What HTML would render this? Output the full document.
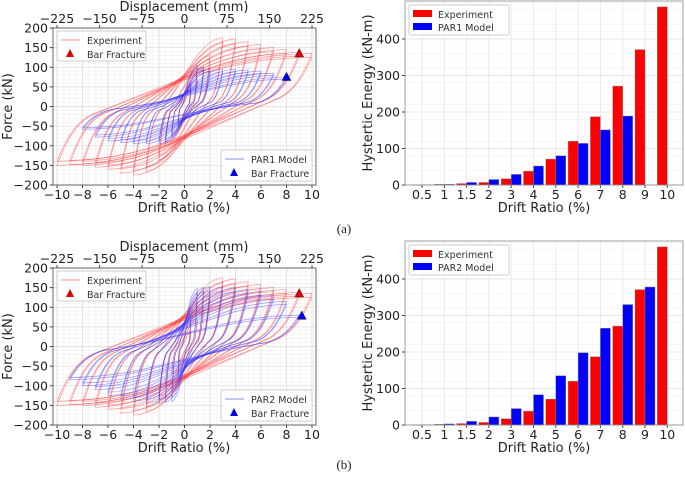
<!DOCTYPE html>
<html><head><meta charset="utf-8"><style>
body{margin:0;background:#fff;}
svg{display:block;font-family:"DejaVu Sans","Liberation Sans",sans-serif;}
</style></head><body>
<svg id="fig" width="685" height="477" viewBox="0 0 685 477"></svg>
<script>
const driftAmps=[0.5,1,1.5,2,3,4,5,6,7,8,9,10];
const expPos=[40,70,100,130,175,172,165,158,150,145,138,135];
const expNeg=[40,70,100,135,165,175,170,160,155,150,148,150];
const expRes=[0.1,0.15,0.2,0.3,0.4,0.45,0.5,0.5,0.55,0.55,0.55,0.6];
const par1Amps=[0.5,1,1.5,2,3,4,5,6,7,8];
const par1Pos=[60,105,100,97,95,95,93,90,85,75];
const par1Neg=[50,80,90,95,95,95,92,88,78,58];
const par1Res=[0.1,0.1,0.12,0.15,0.15,0.18,0.18,0.2,0.2,0.2];
const par2Amps=[0.5,1,1.5,2,3,4,5,6,7,8,9];
const par2Pos=[80,148,150,152,152,150,145,140,130,115,80];
const par2Neg=[80,140,142,145,145,140,135,125,110,100,85];
const par2Res=[0.1,0.2,0.25,0.3,0.3,0.3,0.3,0.3,0.3,0.3,0.3];
const cats=["0.5","1","1.5","2","3","4","5","6","7","8","9","10"];
const energyExp=[0.5,2,4,7,17,38,71,120,187,271,371,488];
const energyPar1=[0.5,2,7,15,29,52,80,114,151,189,0,0];
const energyPar2=[0.5,3,10,22,45,83,135,198,265,330,378,0];
const xTicks=[-10,-8,-6,-4,-2,0,2,4,6,8,10];
const dispTicks=[-225,-150,-75,0,75,150,225];
const fTicks=[-200,-150,-100,-50,0,50,100,150,200];
const eTicks=[0,100,200,300,400];

const NS="http://www.w3.org/2000/svg";
const svg=document.getElementById('fig');
function el(tag,attrs,parent,text){const e=document.createElementNS(NS,tag);for(const k in attrs)e.setAttribute(k,attrs[k]);if(text!==undefined)e.textContent=text;(parent||svg).appendChild(e);return e;}

function hyst(oy,model,amps,pos,neg,res,label,frac){
  const g=el('g',{});
  
  
  const L=53,R=316,T=oy+28,B=oy+185;
  const sx=d=>184.5+d*12.75, sy=f=>(T+B)/2-f*(B-T)/400;
  for(let d=-10.5;d<=10.5;d+=0.5){el('line',{x1:sx(d),x2:sx(d),y1:T,y2:B,stroke:'#eee','stroke-width':0.5},g);}
  for(let f=-200;f<=200;f+=10){el('line',{x1:L,x2:R,y1:sy(f),y2:sy(f),stroke:'#eee','stroke-width':0.5},g);}
  xTicks.forEach(d=>el('line',{x1:sx(d),x2:sx(d),y1:T,y2:B,stroke:'#ddd','stroke-width':0.8},g));
  fTicks.forEach(f=>el('line',{x1:L,x2:R,y1:sy(f),y2:sy(f),stroke:'#ddd','stroke-width':0.8},g));
  function loops(a,p,n,r,col){
    a.forEach((d,i)=>{for(let k=0;k<2;k++){const s=k?0.93:1;const Fp=p[i]*s,Fn=n[i]*s,rr=r[i];
      const dstr=`M${sx(-d)},${sy(-Fn)} C${sx(-0.93*d)},${sy(-0.6*Fn)} ${sx(-0.85*d)},${sy(-0.25*Fn)} ${sx(-0.7*d)},${sy(-0.12*Fn)} C${sx(0.05*d)},${sy(rr*Fp)} ${sx(0.35*d)},${sy(0.97*Fp)} ${sx(d)},${sy(Fp)} C${sx(0.93*d)},${sy(0.6*Fp)} ${sx(0.85*d)},${sy(0.25*Fp)} ${sx(0.7*d)},${sy(0.12*Fp)} C${sx(-0.05*d)},${sy(-rr*Fn)} ${sx(-0.35*d)},${sy(-0.97*Fn)} ${sx(-d)},${sy(-Fn)}Z`;
      const pth=el('path',{d:dstr,fill:'none',stroke:col,'stroke-width':0.7,'stroke-opacity':0.5},g);
      
      }});
  }
  loops(driftAmps,expPos,expNeg,expRes,'#f33');
  loops(amps,pos,neg,res,'#33f');
  function tri(d,f,col,name){const x=sx(d),y=sy(f);const t=el('path',{d:`M${x},${y-5}L${x+4.5},${y+3.5}L${x-4.5},${y+3.5}Z`,fill:col,stroke:'#333','stroke-width':0.5},g);
    }
  tri(9,135,'#d00','experiment-fracture-marker');
  tri(frac[0],frac[1],'#00e','model-fracture-marker');
  el('rect',{x:L,y:T,width:R-L,height:B-T,fill:'none',stroke:'#444','stroke-width':0.8},g);
  xTicks.forEach(d=>{el('line',{x1:sx(d),x2:sx(d),y1:B,y2:B+3,stroke:'#444'},g);el('text',{x:sx(d),y:B+14,'font-size':12.5,'text-anchor':'middle',fill:'#222'},g,d<0?'−'+(-d):d);});
  dispTicks.forEach(m=>{const x=sx(m/22.5);el('line',{x1:x,x2:x,y1:T,y2:T-3,stroke:'#444'},g);el('text',{x:x,y:T-5,'font-size':12.5,'text-anchor':'middle',fill:'#222'},g,m<0?'−'+(-m):m);});
  fTicks.forEach(f=>{el('line',{x1:L,x2:L-3,y1:sy(f),y2:sy(f),stroke:'#444'},g);el('text',{x:L-5,y:sy(f)+4.5,'font-size':12.5,'text-anchor':'end',fill:'#222'},g,f<0?'−'+(-f):f);});
  el('text',{x:184,y:oy+11,'font-size':13,'text-anchor':'middle',fill:'#222'},g,'Displacement (mm)');
  el('text',{x:184,y:B+27,'font-size':13,'text-anchor':'middle',fill:'#222'},g,'Drift Ratio (%)');
  el('text',{x:12,y:(T+B)/2,'font-size':13,'text-anchor':'middle',fill:'#222',transform:`rotate(-90 12 ${(T+B)/2})`},g,'Force (kN)');
  const l1=el('g',{},g);
  el('rect',{x:57,y:T+3,width:89,height:30,fill:'#fff','fill-opacity':0.85,stroke:'#ccc',rx:2},l1);
  el('line',{x1:61,x2:80,y1:T+12,y2:T+12,stroke:'#f66','stroke-width':0.8},l1);
  el('text',{x:87,y:T+16,'font-size':9.5,fill:'#333'},l1,'Experiment');
  el('path',{d:`M70,${T+21}L74,${T+29}L66,${T+29}Z`,fill:'#d00'},l1);
  el('text',{x:87,y:T+30,'font-size':9.5,fill:'#333'},l1,'Bar Fracture');
  const l2=el('g',{},g);
  el('rect',{x:221,y:B-35,width:91,height:31,fill:'#fff','fill-opacity':0.85,stroke:'#ccc',rx:2},l2);
  el('line',{x1:225,x2:244,y1:B-26,y2:B-26,stroke:'#66f','stroke-width':0.8},l2);
  el('text',{x:251,y:B-22,'font-size':9.5,fill:'#333'},l2,label+' Model');
  el('path',{d:`M234,${B-17}L238,${B-9}L230,${B-9}Z`,fill:'#00e'},l2);
  el('text',{x:251,y:B-8,'font-size':9.5,fill:'#333'},l2,'Bar Fracture');
}

function bars(oy,model,label){
  const g=el('g',{});
  
  
  const L=405,R=683,T=oy+1,B=oy+185;
  const sy=v=>B-v*0.365, cx=i=>422+i*22.3;
  for(let v=0;v<=500;v+=20)if(sy(v)>T)el('line',{x1:L,x2:R,y1:sy(v),y2:sy(v),stroke:'#f0f0f0','stroke-width':0.5},g);
  cats.forEach((c,i)=>el('line',{x1:cx(i),x2:cx(i),y1:T,y2:B,stroke:'#e6e6e6','stroke-width':0.8},g));
  eTicks.forEach(v=>el('line',{x1:L,x2:R,y1:sy(v),y2:sy(v),stroke:'#e0e0e0','stroke-width':0.8},g));
  cats.forEach((c,i)=>{
    const r=el('rect',{x:cx(i)-10,y:sy(energyExp[i]),width:10,height:energyExp[i]*0.365,fill:'#f00',stroke:'#888','stroke-width':0.4},g);
    
    if(model[i]>0){const b=el('rect',{x:cx(i),y:sy(model[i]),width:10,height:model[i]*0.365,fill:'#00f',stroke:'#888','stroke-width':0.4},g);
    }
    el('line',{x1:cx(i),x2:cx(i),y1:B,y2:B+3,stroke:'#444'},g);
    el('text',{x:cx(i),y:B+14,'font-size':12.5,'text-anchor':'middle',fill:'#222'},g,c);
  });
  el('rect',{x:L,y:T,width:R-L,height:B-T,fill:'none',stroke:'#888','stroke-width':0.8},g);
  eTicks.forEach(v=>{el('line',{x1:L,x2:L-3,y1:sy(v),y2:sy(v),stroke:'#444'},g);el('text',{x:L-5,y:sy(v)+4.5,'font-size':12.5,'text-anchor':'end',fill:'#222'},g,v);});
  el('text',{x:544,y:B+27,'font-size':13,'text-anchor':'middle',fill:'#222'},g,'Drift Ratio (%)');
  el('text',{x:372,y:(T+B)/2,'font-size':13,'text-anchor':'middle',fill:'#222',transform:`rotate(-90 372 ${(T+B)/2})`},g,'Hystertic Energy (kN-m)');
  const lg=el('g',{},g);
  el('rect',{x:409,y:T+4,width:100,height:30,fill:'#fff',stroke:'#ccc',rx:2},lg);
  el('rect',{x:413,y:T+9,width:19,height:7,fill:'#f00'},lg);
  el('text',{x:438,y:T+17,'font-size':9.5,fill:'#333'},lg,'Experiment');
  el('rect',{x:413,y:T+22,width:19,height:7,fill:'#00f'},lg);
  el('text',{x:438,y:T+30,'font-size':9.5,fill:'#333'},lg,label+' Model');
}

hyst(0,'p1',par1Amps,par1Pos,par1Neg,par1Res,'PAR1',[8,75]);
bars(0,energyPar1,'PAR1');
hyst(240,'p2',par2Amps,par2Pos,par2Neg,par2Res,'PAR2',[9.2,78]);
bars(240,energyPar2,'PAR2');
el('text',{x:344,y:233,'font-size':13,'text-anchor':'middle',fill:'#222','font-family':'Liberation Serif'},svg,'(a)');
el('text',{x:344,y:469,'font-size':13,'text-anchor':'middle',fill:'#222','font-family':'Liberation Serif'},svg,'(b)');
</script>
</body></html>
